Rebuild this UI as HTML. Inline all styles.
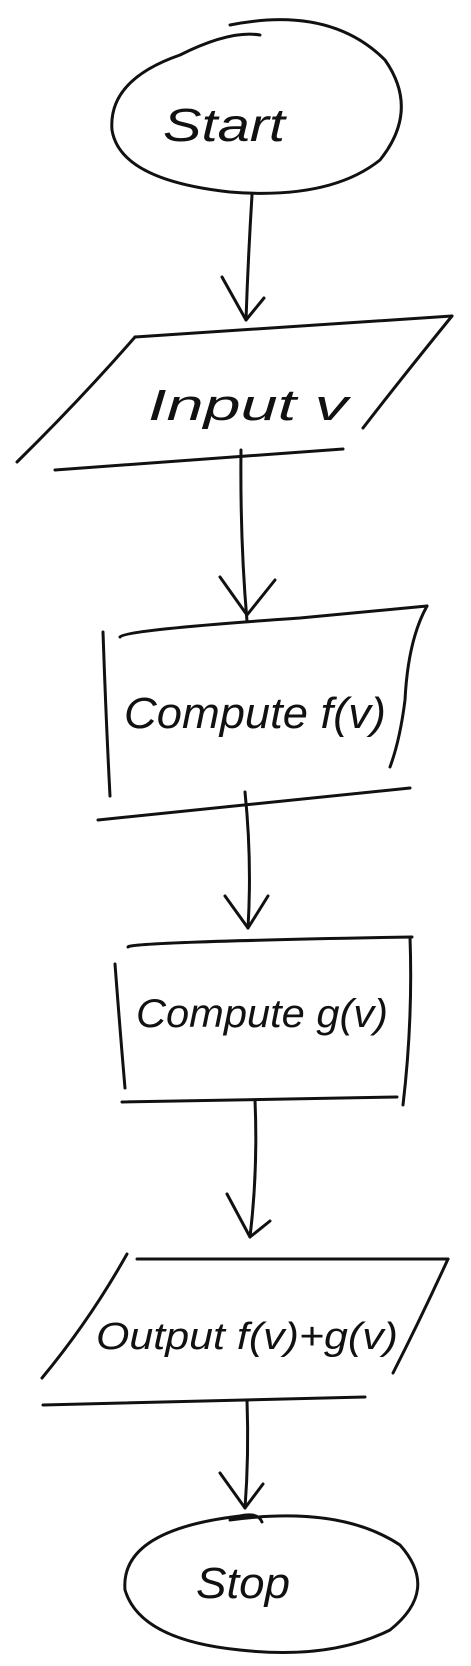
<!DOCTYPE html>
<html><head><meta charset="utf-8"><style>
html,body{margin:0;padding:0;background:#fff;}
svg{display:block}
text{font-family:"Liberation Sans",sans-serif;fill:#111;}
</style></head><body>
<svg width="471" height="1666" viewBox="0 0 471 1666" xmlns="http://www.w3.org/2000/svg">
<g fill="none" stroke="#111" stroke-width="3" stroke-linecap="round" stroke-linejoin="round">
<!-- Start -->
<path d="M230,25 Q330,5 385,60 Q420,110 380,160 Q330,200 230,192 Q120,180 112,130 Q108,80 180,55 Q230,30 260,35"/>
<!-- arrow 1 -->
<path d="M252,195 Q248,260 246,320"/>
<path d="M222,277 L246,320 L264,298"/>
<!-- Input -->
<path d="M135,337 L452,316"/>
<path d="M135,337 Q80,400 17,462"/>
<path d="M452,316 Q400,380 363,428"/>
<path d="M55,470 L343,449"/>
<!-- arrow 2 -->
<path d="M241,450 Q240,540 247,621"/>
<path d="M220,577 L247,615 L275,580"/>
<!-- Compute f -->
<path d="M120,637 Q124,630 300,618 L427,606"/>
<path d="M103,632 Q106,720 110,796"/>
<path d="M427,606 Q408,640 405,700 Q400,740 390,767"/>
<path d="M98,820 L410,788"/>
<!-- arrow 3 -->
<path d="M245,792 Q252,860 248,928"/>
<path d="M225,896 L248,928 L268,896"/>
<!-- Compute g -->
<path d="M128,947 Q128,942 412,937"/>
<path d="M115,964 Q120,1030 125,1088"/>
<path d="M410,937 Q413,1020 403,1105"/>
<path d="M122,1102 L397,1097"/>
<!-- arrow 4 -->
<path d="M255,1100 Q258,1170 250,1237"/>
<path d="M227,1194 L250,1237 L270,1221"/>
<!-- Output -->
<path d="M137,1259 L448,1259"/>
<path d="M127,1254 Q90,1320 42,1378"/>
<path d="M448,1259 Q420,1320 393,1373"/>
<path d="M43,1405 L365,1397"/>
<!-- arrow 5 -->
<path d="M247,1400 Q249,1455 245,1508"/>
<path d="M220,1473 L245,1508 L263,1484"/>
<!-- Stop -->
<path d="M230,1520 Q340,1505 400,1545 Q440,1590 390,1630 Q330,1660 240,1650 Q140,1640 125,1590 Q120,1530 240,1516 Q258,1512 262,1522"/>
</g>
<text x="163" y="141" font-size="46" font-style="italic" textLength="122" lengthAdjust="spacingAndGlyphs">Start</text>
<text x="148" y="420" font-size="44" font-style="italic" textLength="200" lengthAdjust="spacingAndGlyphs">Input v</text>
<text x="124" y="728" font-size="44" font-style="italic" textLength="262" lengthAdjust="spacingAndGlyphs">Compute f(v)</text>
<text x="136" y="1027" font-size="40" font-style="italic" textLength="252" lengthAdjust="spacingAndGlyphs">Compute g(v)</text>
<text x="96" y="1349" font-size="38" font-style="italic" textLength="302" lengthAdjust="spacingAndGlyphs">Output f(v)+g(v)</text>
<text x="196" y="1598" font-size="44" font-style="italic" textLength="94" lengthAdjust="spacingAndGlyphs">Stop</text>
</svg>
</body></html>
